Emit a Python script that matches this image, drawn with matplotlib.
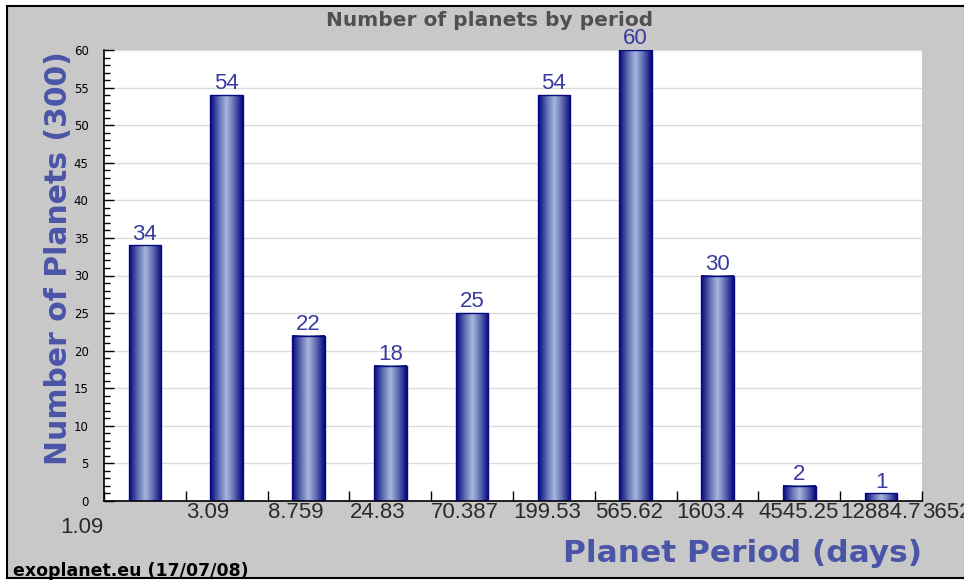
import numpy as np
import matplotlib
matplotlib.use('Agg')
import matplotlib.pyplot as plt
from matplotlib.colors import LinearSegmentedColormap
from matplotlib.patches import Rectangle
import matplotlib.transforms as mtransforms

# bin edges (days) and planet counts per bin
edges = ['1.09', '3.09', '8.759', '24.83', '70.387', '199.53', '565.62',
         '1603.4', '4545.25', '12884.7', '36525']
counts = [34, 54, 22, 18, 25, 54, 60, 30, 2, 1]

title = 'Number of planets by period'
ylabel = 'Number of Planets (300)'
xlabel = 'Planet Period (days)'
footer = 'exoplanet.eu (17/07/08)'

fig = plt.figure(figsize=(9.64, 5.83), dpi=100)
fig.patch.set_facecolor('white')
# gray panel with black border
fig.patches.append(Rectangle((7/964, 5/583), 1.0, 572/583, transform=fig.transFigure,
                             facecolor='#c8c8c8', edgecolor='black', linewidth=1.5, zorder=-5))

ax = fig.add_axes([104/964, 82/583, 818/964, 451/583])
ax.set_facecolor('white')

centers = np.arange(len(counts)) + 0.5
bars = ax.bar(centers, counts, width=0.4, color='none', edgecolor='#0a0a80',
              linewidth=1, zorder=3)

# horizontal gradient inside each bar
cmap = LinearSegmentedColormap.from_list('bar', ['#06067e', '#5a68b0', '#a8b8de', '#5a68b0', '#06067e'])
grad = np.linspace(0, 1, 64).reshape(1, -1)
for b in bars:
    x0, w, h = b.get_x(), b.get_width(), b.get_height()
    ax.imshow(grad, extent=[x0, x0 + w, 0, h], aspect='auto', cmap=cmap,
              interpolation='bicubic', zorder=2)
    ax.text(x0 + w / 2, h + 0.1, str(int(h)), ha='center', va='bottom',
            fontsize=16, color='#3a3aa0', family='Liberation Sans', zorder=4)

ax.set_xlim(0, len(counts))
ax.set_ylim(0, 60)
ax.set_yticks(np.arange(0, 61, 5))
ax.set_yticks(np.arange(0, 61, 1), minor=True)
ax.yaxis.grid(True, color='#dcdcdc', linewidth=1)
ax.set_axisbelow(True)
ax.tick_params(axis='y', which='major', direction='in', length=7, width=1,
               labelsize=8.5, pad=11, colors='black')
ax.tick_params(axis='y', which='minor', direction='in', length=4, width=1)
ax.set_xticks(np.arange(len(edges)))
ax.set_xticklabels([])
ax.tick_params(axis='x', direction='in', length=7, width=1)
for s in ['top', 'right']:
    ax.spines[s].set_visible(False)
ax.spines['left'].set_linewidth(1.2)
ax.spines['bottom'].set_linewidth(1.2)

# x tick labels: left aligned at edges, first one dropped below
trans = mtransforms.blended_transform_factory(ax.transData, ax.transAxes)
for i, lab in enumerate(edges):
    if i == 0:
        ax.text(i, -0.035, lab, transform=trans, ha='right', va='top',
                fontsize=16, color='#2a2a2a', family='Liberation Sans', clip_on=False)
    else:
        ax.text(i, -0.002, lab, transform=trans, ha='left', va='top',
                fontsize=16, color='#2a2a2a', family='Liberation Sans', clip_on=False)

fig.text(490/964, 1 - 20/583, title, ha='center', va='center', fontsize=14.5,
         fontweight='bold', color='#505050', family='DejaVu Sans')
fig.text(59/964, 1 - 258/583, ylabel, ha='center', va='center', rotation=90,
         fontsize=21.5, fontweight='bold', color='#4b55a8', family='DejaVu Sans')
fig.text(922/964, 1 - 553/583, xlabel, ha='right', va='center',
         fontsize=22.5, fontweight='bold', color='#4b55a8', family='DejaVu Sans')
fig.text(13/964, 1 - 571/583, footer, ha='left', va='center',
         fontsize=12.5, fontweight='bold', color='black', family='DejaVu Sans')

fig.savefig('out.png', dpi=100)
